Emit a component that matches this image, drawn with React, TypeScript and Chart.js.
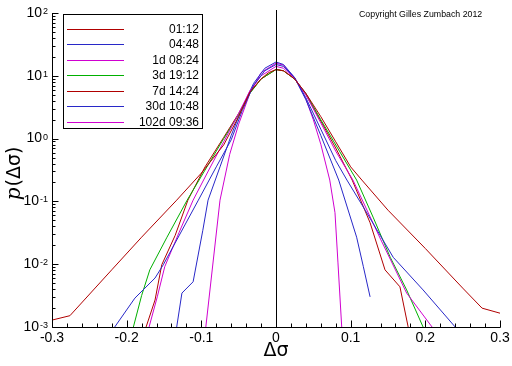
import React, { useEffect, useRef } from "react";
import { Chart, registerables } from "chart.js";

Chart.register(...registerables);

// ---- data (x = Δσ, values given as log10 of p(Δσ)) ----
const seriesLabels = ["01:12", "04:48", "1d 08:24", "3d 19:12", "7d 14:24", "30d 10:48", "102d 09:36"];
const seriesColors = ["#b00000", "#2828c8", "#d000d0", "#00b000", "#b00000", "#2828c8", "#d000d0"];

const x0112 = [-0.3, -0.276, -0.22, -0.18, -0.133, -0.1, -0.07, -0.05, -0.035, -0.02, -0.01, 0, 0.01, 0.025, 0.04, 0.06, 0.08, 0.1, 0.115, 0.15, 0.2, 0.25, 0.276, 0.3];
const lp0112 = [-2.89, -2.82, -2.09, -1.57, -0.98, -0.55, -0.1, 0.35, 0.74, 0.95, 1.05, 1.1, 1.08, 0.95, 0.72, 0.35, -0.05, -0.45, -0.66, -1.14, -1.75, -2.38, -2.7, -2.78];

const x0448 = [-0.216, -0.189, -0.162, -0.151, -0.13, -0.104, -0.08, -0.06, -0.045, -0.03, -0.015, 0, 0.01, 0.025, 0.04, 0.06, 0.08, 0.095, 0.12, 0.157, 0.197, 0.24];
const lp0448 = [-3, -2.54, -2.22, -2.01, -1.55, -0.98, -0.45, -0.02, 0.45, 0.85, 1.08, 1.18, 1.15, 0.97, 0.65, 0.15, -0.35, -0.66, -1.15, -1.89, -2.41, -3];

const x1d = [-0.17, -0.159, -0.149, -0.13, -0.111, -0.09, -0.07, -0.05, -0.035, -0.02, 0, 0.01, 0.025, 0.04, 0.06, 0.08, 0.103, 0.14, 0.175, 0.209];
const lp1d = [-3, -2.52, -2.04, -1.5, -0.98, -0.5, -0.05, 0.4, 0.76, 1.0, 1.15, 1.12, 0.96, 0.7, 0.25, -0.2, -0.66, -1.6, -2.46, -3];

const x3d = [-0.191, -0.18, -0.169, -0.146, -0.119, -0.095, -0.07, -0.05, -0.035, -0.02, 0, 0.01, 0.025, 0.04, 0.06, 0.085, 0.108, 0.13, 0.153, 0.175, 0.197];
const lp3d = [-3, -2.5, -2.09, -1.57, -0.98, -0.5, 0.0, 0.38, 0.72, 0.95, 1.1, 1.08, 0.95, 0.72, 0.3, -0.2, -0.66, -1.25, -1.89, -2.41, -3];

const x7d = [-0.174, -0.162, -0.153, -0.135, -0.118, -0.095, -0.07, -0.05, -0.035, -0.02, 0, 0.01, 0.025, 0.04, 0.06, 0.08, 0.102, 0.126, 0.146, 0.166, 0.177];
const lp7d = [-3, -2.57, -2.01, -1.54, -0.98, -0.45, 0.02, 0.4, 0.73, 0.95, 1.1, 1.08, 0.95, 0.7, 0.28, -0.15, -0.66, -1.34, -2.09, -2.36, -3];

const x30d = [-0.133, -0.126, -0.111, -0.098, -0.091, -0.075, -0.06, -0.045, -0.03, -0.015, 0, 0.01, 0.025, 0.04, 0.06, 0.084, 0.108, 0.117, 0.126];
const lp30d = [-3, -2.46, -2.28, -1.46, -0.98, -0.45, 0.05, 0.5, 0.88, 1.12, 1.22, 1.18, 0.97, 0.62, 0.05, -0.66, -1.57, -2.04, -2.52];

const x102d = [-0.094, -0.075, -0.062, -0.05, -0.035, -0.02, 0, 0.01, 0.025, 0.04, 0.05, 0.06, 0.072, 0.079, 0.083, 0.088];
const lp102d = [-3, -0.98, -0.25, 0.23, 0.72, 1.05, 1.2, 1.17, 0.97, 0.63, 0.3, -0.09, -0.66, -1.18, -1.98, -3];

const seriesX = [x0112, x0448, x1d, x3d, x7d, x30d, x102d];
const seriesLogP = [lp0112, lp0448, lp1d, lp3d, lp7d, lp30d, lp102d];

const xTickValues = [-0.3, -0.2, -0.1, 0, 0.1, 0.2, 0.3];
const xTickLabels = ["-0.3", "-0.2", "-0.1", "0", "0.1", "0.2", "0.3"];
const yTickExponents = [2, 1, 0, -1, -2, -3];
const copyrightText = "Copyright Gilles Zumbach 2012";
const xTitle = "Δσ";

const SANS = '"Liberation Sans", Arial, sans-serif';

const decor = {
  id: "decor",
  afterDatasetsDraw(chart: any) {
    const { ctx, chartArea: a, scales } = chart;
    const xs = scales.x;
    const ys = scales.y;
    ctx.save();
    ctx.strokeStyle = "#000";
    ctx.fillStyle = "#000";
    ctx.lineWidth = 1;

    // zero line
    const xz = Math.round(xs.getPixelForValue(0)) + 0.5;
    ctx.beginPath();
    ctx.moveTo(xz, a.top - 3);
    ctx.lineTo(xz, a.bottom);
    ctx.stroke();

    // axes lines
    const L = Math.round(a.left) + 0.5;
    const B = Math.round(a.bottom) + 0.5;
    ctx.beginPath();
    ctx.moveTo(L, a.top);
    ctx.lineTo(L, B);
    ctx.lineTo(a.right + 0.5, B);
    ctx.stroke();

    // y ticks (inward)
    ctx.beginPath();
    for (let k = -3; k <= 2; k++) {
      for (let m = 1; m <= 9; m++) {
        if (k === 2 && m > 1) break;
        const v = m * Math.pow(10, k);
        const py = Math.round(ys.getPixelForValue(v)) + 0.5;
        const len = m === 1 ? 6 : 3;
        ctx.moveTo(L, py);
        ctx.lineTo(L + len, py);
      }
    }
    // x ticks (inward)
    for (let i = -15; i <= 15; i++) {
      const v = i * 0.02;
      const px = Math.round(xs.getPixelForValue(v)) + 0.5;
      const len = i % 5 === 0 ? 7 : 4;
      ctx.moveTo(px, B);
      ctx.lineTo(px, B - len);
    }
    ctx.stroke();

    // x tick labels
    ctx.font = `14px ${SANS}`;
    ctx.textAlign = "center";
    ctx.textBaseline = "middle";
    xTickValues.forEach((v, i) => {
      ctx.fillText(xTickLabels[i], xs.getPixelForValue(v), B + 11);
    });

    // y tick labels 10^k
    yTickExponents.forEach((k) => {
      const py = ys.getPixelForValue(Math.pow(10, k));
      const exp = k < 0 ? "-" + Math.abs(k) : String(k);
      ctx.font = `9px ${SANS}`;
      const ew = ctx.measureText(exp).width;
      ctx.font = `14px ${SANS}`;
      const bw = ctx.measureText("10").width;
      const right = 48;
      ctx.textAlign = "left";
      ctx.textBaseline = "middle";
      ctx.fillText("10", right - ew - bw - 1, py);
      ctx.font = `9px ${SANS}`;
      ctx.textBaseline = "alphabetic";
      ctx.fillText(exp, right - ew, py + 1);
    });

    // axis titles
    ctx.textAlign = "center";
    ctx.textBaseline = "middle";
    ctx.font = `19px "DejaVu Sans", sans-serif`;
    ctx.fillText(xTitle, xs.getPixelForValue(0), 351);

    ctx.save();
    ctx.translate(15, (a.top + a.bottom) / 2 + 4);
    ctx.rotate(-Math.PI / 2);
    ctx.textBaseline = "middle";
    ctx.textAlign = "left";
    const pPart = "p";
    const rest = "(Δσ)";
    ctx.font = `italic 20px "DejaVu Serif", serif`;
    const pw = ctx.measureText(pPart).width;
    ctx.font = `19px "DejaVu Sans", sans-serif`;
    const rw = ctx.measureText(rest).width;
    const start = -(pw + rw) / 2;
    ctx.font = `italic 20px "DejaVu Serif", serif`;
    ctx.fillText(pPart, start, 0);
    ctx.font = `19px "DejaVu Sans", sans-serif`;
    ctx.fillText(rest, start + pw + 1, 0);
    ctx.restore();

    // copyright
    ctx.font = `8.8px ${SANS}`;
    ctx.textAlign = "left";
    ctx.textBaseline = "middle";
    ctx.fillText(copyrightText, 359, 15);

    // legend
    ctx.fillStyle = "#fff";
    ctx.fillRect(64, 15, 139, 114);
    ctx.strokeStyle = "#000";
    ctx.strokeRect(63.5, 14.5, 139, 114);
    ctx.font = `12px ${SANS}`;
    ctx.textAlign = "right";
    ctx.textBaseline = "middle";
    seriesLabels.forEach((lab, i) => {
      const ry = Math.round(29 + i * 15.45) + 0.5;
      ctx.strokeStyle = seriesColors[i];
      ctx.beginPath();
      ctx.moveTo(67, ry);
      ctx.lineTo(124, ry);
      ctx.stroke();
      ctx.fillStyle = "#000";
      ctx.fillText(lab, 199, ry + 0.5);
    });

    ctx.restore();
  },
};

export default function App() {
  const ref = useRef<HTMLCanvasElement | null>(null);
  useEffect(() => {
    if (!ref.current) return;
    const datasets = seriesLabels.map((lab, i) => ({
      label: lab,
      data: seriesX[i].map((xv, j) => ({ x: xv, y: Math.pow(10, seriesLogP[i][j]) })),
      borderColor: seriesColors[i],
      backgroundColor: seriesColors[i],
      borderWidth: 1,
      pointRadius: 0,
      tension: 0,
      fill: false,
    }));
    const chart = new Chart(ref.current, {
      type: "line",
      data: { datasets },
      options: {
        animation: false,
        responsive: false,
        maintainAspectRatio: false,
        parsing: true,
        layout: { padding: { left: 52, right: 12, top: 13, bottom: 39 } },
        plugins: { legend: { display: false }, tooltip: { enabled: false }, title: { display: false } },
        scales: {
          x: { type: "linear", min: -0.3, max: 0.3, display: false },
          y: { type: "logarithmic", min: 0.001, max: 100, display: false },
        },
      },
      plugins: [decor],
    });
    return () => chart.destroy();
  }, []);
  return (
    <div style={{ position: "fixed", left: 0, top: 0, width: 512, height: 366, background: "#fff" }}>
      <canvas ref={ref} width={512} height={366} style={{ width: 512, height: 366 }} />
    </div>
  );
}
